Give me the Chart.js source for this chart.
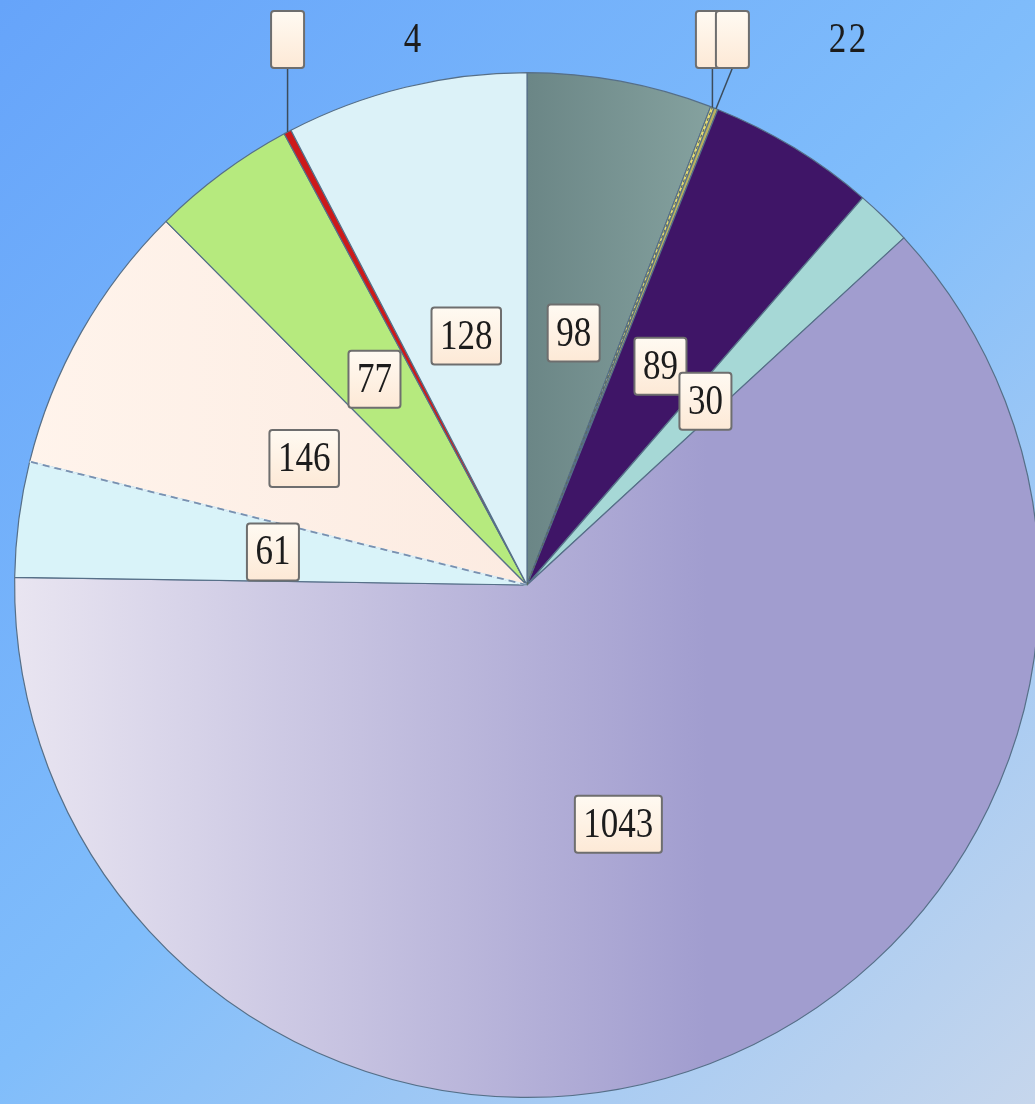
<!DOCTYPE html>
<html>
<head>
<meta charset="utf-8">
<script src="https://cdn.jsdelivr.net/npm/chart.js@4.4.1/dist/chart.umd.min.js"></script>
<style>
  html, body { margin: 0; padding: 0; overflow: hidden; width: 1035px; height: 1104px; }
  body { background: linear-gradient(135deg, #66a4fa 0%, #80bdfb 50%, #c6d6ec 100%); }
  #wrap { position: absolute; left: 0; top: 0; width: 1054px; height: 1104px; }
</style>
</head>
<body>
<div id="wrap"><canvas id="c" width="1054" height="1104"></canvas></div>
<script>
// ---- data ----
const categories = ['S1', 'S2', 'S3', 'S4', 'S5', 'S6', 'S7', 'S8', 'S9', 'S10', 'S11'];
const values = [98, 2, 2, 89, 30, 1043, 61, 146, 77, 4, 128];
const valueLabels = ['98', '2', '2', '89', '30', '1043', '61', '146', '77', '4', '128'];

// ---- styles ----
const sliceColors = ['#76928f', '#e6dc74', '#b8b060', '#3f1567', '#a6d8d6', '#a6a2d2',
                     '#d9f3f9', '#fdeee5', '#b6ea7e', '#cc1a1a', '#dcf2f8'];
const INSIDE_MIN = 10;

function sliceFill(ctx) {
  const chart = ctx.chart;
  const i = ctx.dataIndex;
  const area = chart.chartArea;
  if (!area) return sliceColors[i];
  const c = chart.ctx;
  const cx = (area.left + area.right) / 2;
  if (i === 0) {
    const g = c.createLinearGradient(cx, 0, cx + 200, 0);
    g.addColorStop(0, '#6b8686');
    g.addColorStop(1, '#87a4a1');
    return g;
  }
  if (i === 5) {
    const g = c.createLinearGradient(area.left, 0, cx + 180, 0);
    g.addColorStop(0, '#e9e5f1');
    g.addColorStop(1, '#a19dcf');
    return g;
  }
  if (i === 7) {
    const g = c.createLinearGradient(area.left, 0, cx, 0);
    g.addColorStop(0, '#fff4ec');
    g.addColorStop(1, '#fcebe1');
    return g;
  }
  return sliceColors[i];
}

function drawBox(c, x, y, w, h) {
  const r = 3;
  const l = x - w / 2, t = y - h / 2;
  c.beginPath();
  c.moveTo(l + r, t);
  c.lineTo(l + w - r, t);
  c.quadraticCurveTo(l + w, t, l + w, t + r);
  c.lineTo(l + w, t + h - r);
  c.quadraticCurveTo(l + w, t + h, l + w - r, t + h);
  c.lineTo(l + r, t + h);
  c.quadraticCurveTo(l, t + h, l, t + h - r);
  c.lineTo(l, t + r);
  c.quadraticCurveTo(l, t, l + r, t);
  c.closePath();
  const g = c.createLinearGradient(0, t, 0, t + h);
  g.addColorStop(0, '#fffaf2');
  g.addColorStop(1, '#fde9d6');
  c.fillStyle = g;
  c.fill();
  c.lineWidth = 2;
  c.strokeStyle = '#6e6e6e';
  c.stroke();
}

function drawText(c, text, x, y) {
  c.save();
  c.translate(x, y);
  c.scale(1, 1.22);
  c.font = '35px "Liberation Serif", "DejaVu Serif", serif';
  c.fillStyle = '#1c1c1c';
  c.textAlign = 'center';
  c.textBaseline = 'middle';
  c.fillText(text, 0, 1);
  c.restore();
}

const labelPlugin = {
  id: 'labelPlugin',
  afterDatasetsDraw(chart) {
    const c = chart.ctx;
    const meta = chart.getDatasetMeta(0);
    const arcs = meta.data;
    const cx = arcs[0].x, cy = arcs[0].y;
    const R = arcs[0].outerRadius;

    // dashed boundary between slice 61 and 146
    c.save();
    const a61 = arcs[6].endAngle;
    c.beginPath();
    c.moveTo(cx, cy);
    c.lineTo(cx + R * Math.cos(a61), cy + R * Math.sin(a61));
    c.lineWidth = 2;
    c.strokeStyle = '#def1f8';
    c.stroke();
    c.setLineDash([7, 5]);
    c.lineWidth = 1.8;
    c.strokeStyle = '#7890b0';
    c.stroke();
    // dashed yellow tiny slice
    const ay = (arcs[1].startAngle + arcs[1].endAngle) / 2;
    c.beginPath();
    c.moveTo(cx, cy);
    c.lineTo(cx + R * Math.cos(ay), cy + R * Math.sin(ay));
    c.setLineDash([3, 3]);
    c.lineWidth = 1.2;
    c.strokeStyle = '#5a6a60';
    c.stroke();
    c.restore();

    // inside labels
    c.font = '35px "Liberation Serif", "DejaVu Serif", serif';
    arcs.forEach((arc, i) => {
      if (values[i] < INSIDE_MIN) return;
      const p = arc.tooltipPosition();
      const tw = c.measureText(valueLabels[i]).width;
      drawBox(c, p.x, p.y, tw + 17, 57);
      drawText(c, valueLabels[i], p.x, p.y);
    });

    // outside labels for tiny slices
    let prevX = -1e9;
    arcs.forEach((arc, i) => {
      if (values[i] >= INSIDE_MIN) return;
      const mid = (arc.startAngle + arc.endAngle) / 2;
      const rx = cx + R * Math.cos(mid);
      const ry = cy + R * Math.sin(mid);
      let bx = rx;
      if (Math.abs(bx - prevX) < 20) bx = prevX + 20;
      prevX = bx;
      const bw = 33, bh = 57, bTop = 11;
      c.save();
      c.beginPath();
      c.moveTo(bx, bTop + bh);
      c.lineTo(rx, ry);
      c.lineWidth = 1.5;
      c.strokeStyle = '#3c4c5c';
      c.stroke();
      c.restore();
      drawBox(c, bx, bTop + bh / 2, bw, bh);
      drawText(c, valueLabels[i], bx + 125, 40);
    });
  }
};

new Chart(document.getElementById('c'), {
  type: 'pie',
  data: {
    labels: categories,
    datasets: [{
      data: values,
      backgroundColor: sliceFill,
      borderColor: '#566f88',
      borderWidth: 1.2
    }]
  },
  options: {
    responsive: false,
    animation: false,
    layout: { padding: { left: 14, right: 14, top: 72, bottom: 6 } },
    plugins: { legend: { display: false }, tooltip: { enabled: false } }
  },
  plugins: [labelPlugin]
});
</script>
</body>
</html>
